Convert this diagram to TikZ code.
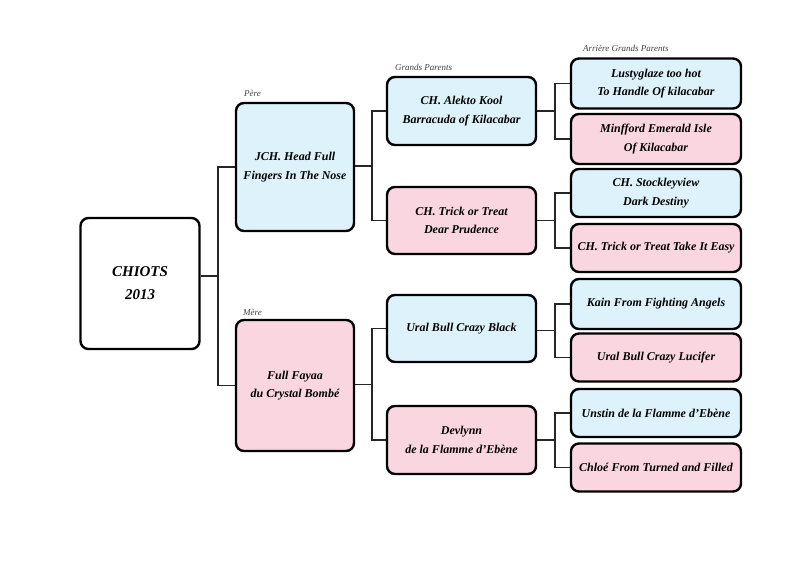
\documentclass[tikz,border=0pt]{standalone}
\usepackage{fontspec}
\setmainfont{Liberation Serif}

\definecolor{maleblue}{RGB}{221,242,250}
\definecolor{femalepink}{RGB}{250,214,225}

\tikzset{
  dogbox/.style={draw=black, line width=2.4pt, rounded corners=8pt, align=center,
    font=\bfseries\itshape\fontsize{12}{18.5}\selectfont, inner sep=2pt},
  malebox/.style={dogbox, fill=maleblue},
  femalebox/.style={dogbox, fill=femalepink},
  gen/.style={font=\itshape\fontsize{9}{10}\selectfont, text=black!75, anchor=west, inner sep=0pt},
  link/.style={line width=1.3pt, draw=black!85}
}

\begin{document}
\begin{tikzpicture}[x=1pt,y=-1pt]

    % Fix the frame of the page
    \useasboundingbox (0,0) rectangle (800,565);

    % The litter
    \node[dogbox, fill=white, minimum width=119, minimum height=131,
      font=\bfseries\itshape\fontsize{15}{23}\selectfont] (chiots) at (140,283.5) {CHIOTS\\2013};

    % Parents
    \node[malebox, minimum width=118, minimum height=128] (pere) at (295,167) {JCH. Head Full\\Fingers In The Nose};
    \node[femalebox, minimum width=118, minimum height=131] (mere) at (295,385.5) {Full Fayaa\\du Crystal Bombé};

    % Grand parents
    \node[malebox, minimum width=149, minimum height=68] (gpa) at (461.5,111) {CH. Alekto Kool\\Barracuda of Kilacabar};
    \node[femalebox, minimum width=149, minimum height=67] (gpb) at (461.5,220.5) {CH. Trick or Treat\\Dear Prudence};
    \node[malebox, minimum width=149, minimum height=67] (gpc) at (461.5,328.5) {Ural Bull Crazy Black};
    \node[femalebox, minimum width=149, minimum height=68] (gpd) at (461.5,440) {Devlynn\\de la Flamme d'Ebène};

    % Great grand parents
    \node[malebox, minimum width=170, minimum height=50] (ggpa) at (656,83.5) {Lustyglaze too hot\\To Handle Of kilacabar};
    \node[femalebox, minimum width=170, minimum height=50] (ggpb) at (656,139) {Minfford Emerald Isle\\Of Kilacabar};
    \node[malebox, minimum width=170, minimum height=48] (ggpc) at (656,193) {CH. Stockleyview\\Dark Destiny};
    \node[femalebox, minimum width=170, minimum height=48] (ggpd) at (656,248) {CH. Trick or Treat Take It Easy};
    \node[malebox, minimum width=170, minimum height=50] (ggpe) at (656,304) {Kain From Fighting Angels};
    \node[femalebox, minimum width=170, minimum height=48] (ggpf) at (656,357.5) {Ural Bull Crazy Lucifer};
    \node[malebox, minimum width=170, minimum height=48] (ggpg) at (656,413) {Unstin de la Flamme d'Ebène};
    \node[femalebox, minimum width=170, minimum height=48] (ggph) at (656,467.5) {Chloé From Turned and Filled};

    % Generation labels
    \node[gen] (lblpere) at (244,93) {Père};
    \node[gen] (lblmere) at (243,312) {Mère};
    \node[gen] (lblgp) at (395,67) {Grands Parents};
    \node[gen] (lblggp) at (583,48) {Arrière Grands Parents};

    % Junction points of the tree
    \coordinate (j0) at (218,276);
    \coordinate (j1) at (372,166);
    \coordinate (j2) at (372,384.5);
    \coordinate (j3) at (555,111);
    \coordinate (j4) at (555,220.5);
    \coordinate (j5) at (555,330.5);
    \coordinate (j6) at (555,440);

    % Litter to parents
    \draw[link] (chiots.east |- j0) -- (j0);
    \draw[link] (pere.west) -| (j0) |- (mere.west);

    % Parents to grand parents
    \draw[link] (pere.east |- j1) -- (j1);
    \draw[link] (gpa.west) -| (j1) |- (gpb.west);
    \draw[link] (mere.east |- j2) -- (j2);
    \draw[link] (gpc.west) -| (j2) |- (gpd.west);

    % Grand parents to great grand parents
    \draw[link] (gpa.east) -- (j3);
    \draw[link] (ggpa.west) -| (j3) |- (ggpb.west);
    \draw[link] (gpb.east) -- (j4);
    \draw[link] (ggpc.west) -| (j4) |- (ggpd.west);
    \draw[link] (gpc.east |- j5) -- (j5);
    \draw[link] (ggpe.west) -| (j5) |- (ggpf.west);
    \draw[link] (gpd.east) -- (j6);
    \draw[link] (ggpg.west) -| (j6) |- (ggph.west);

\end{tikzpicture}
\end{document}
